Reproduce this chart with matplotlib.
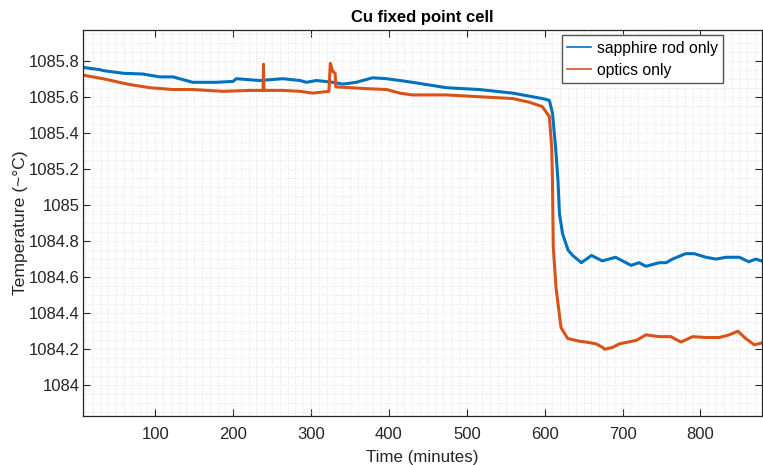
import numpy as np
from matplotlib import pyplot as plt
from matplotlib.ticker import MultipleLocator, FuncFormatter

# time (minutes) and temperature readings
t_rod = [7, 29, 33, 59, 84, 106, 123, 148, 161, 178, 200, 204, 234, 264, 286, 294,
         307, 328, 341, 358, 379, 397, 414, 430, 474, 516, 559, 597, 606, 610, 614,
         617, 619, 623, 630, 636, 647, 657, 660, 674, 691, 711, 721, 730, 747, 756,
         764, 781, 792, 807, 820, 833, 850, 862, 871, 878]
T_rod = [1085.763, 1085.75, 1085.745, 1085.73, 1085.726, 1085.71, 1085.71, 1085.68,
         1085.68, 1085.68, 1085.685, 1085.70, 1085.69, 1085.70, 1085.69, 1085.68,
         1085.69, 1085.68, 1085.67, 1085.68, 1085.705, 1085.70, 1085.69, 1085.68,
         1085.65, 1085.64, 1085.62, 1085.59, 1085.58, 1085.51, 1085.32, 1085.14,
         1084.95, 1084.84, 1084.75, 1084.72, 1084.68, 1084.71, 1084.72, 1084.69,
         1084.71, 1084.665, 1084.68, 1084.66, 1084.68, 1084.68, 1084.70, 1084.73,
         1084.73, 1084.71, 1084.70, 1084.71, 1084.71, 1084.685, 1084.70, 1084.69]

t_opt = [7, 33, 59, 71, 93, 123, 148, 187, 221, 238.5, 239, 239.7, 264, 286, 302,
         323, 324.8, 328, 331, 331.7, 350, 371, 397, 414, 430, 474, 516, 559, 580,
         597, 606, 609, 610, 611, 614.6, 621, 629.5, 644, 653, 666, 674.5, 677, 687,
         696, 718, 730, 747, 762, 775, 790, 807, 824, 837, 848, 858, 869, 879]
T_opt = [1085.72, 1085.70, 1085.675, 1085.665, 1085.65, 1085.64, 1085.64, 1085.63,
         1085.635, 1085.635, 1085.78, 1085.635, 1085.635, 1085.63, 1085.62, 1085.63,
         1085.785, 1085.74, 1085.73, 1085.655, 1085.65, 1085.645, 1085.64, 1085.62,
         1085.61, 1085.61, 1085.60, 1085.59, 1085.57, 1085.545, 1085.49, 1085.32,
         1085.14, 1084.77, 1084.54, 1084.32, 1084.26, 1084.245, 1084.24, 1084.23,
         1084.21, 1084.20, 1084.21, 1084.23, 1084.25, 1084.28, 1084.27, 1084.27,
         1084.24, 1084.27, 1084.265, 1084.265, 1084.28, 1084.30, 1084.26, 1084.225,
         1084.235]

labels = ['sapphire rod only', 'optics only']

plt.rcParams['font.family'] = ['Liberation Sans', 'DejaVu Sans']
dark = '#262626'

fig = plt.figure(figsize=(7.63, 4.65), dpi=100)
ax = fig.add_axes([83 / 763, 49 / 465, 679 / 763, 386 / 465])

ax.plot(t_rod, T_rod, color='#0072BD', lw=2.2, label=labels[0])
ax.plot(t_opt, T_opt, color='#D95319', lw=2.2, label=labels[1])

ax.set_xlim(7.3, 879)
ax.set_ylim(1083.83, 1085.97)
ax.xaxis.set_major_locator(MultipleLocator(100))
ax.yaxis.set_major_locator(MultipleLocator(0.2))
ax.xaxis.set_minor_locator(MultipleLocator(10))
ax.yaxis.set_minor_locator(MultipleLocator(0.05))
ax.yaxis.set_major_formatter(FuncFormatter(lambda v, p: '%g' % round(v, 1)))

# matlab-ish box, inward ticks on all four sides
ax.tick_params(which='major', direction='in', length=5, width=0.8, color=dark,
               top=True, right=True, labelsize=12, labelcolor=dark)
ax.tick_params(axis='x', which='major', pad=8)
ax.tick_params(axis='y', which='major', pad=2.5)
ax.tick_params(which='minor', length=0, top=True, right=True)
for s in ax.spines.values():
    s.set_color(dark)
    s.set_linewidth(0.9)

ax.grid(which='both', color='#dadada', linestyle=(0, (1, 2)), linewidth=0.6)
ax.set_axisbelow(True)

ax.set_xlabel('Time (minutes)', fontsize=12.2, color=dark, labelpad=6)
ax.set_ylabel('Temperature (~°C)', fontsize=12.6, color=dark)
ax.yaxis.set_label_coords(-0.0817, 0.5)
ax.set_title('Cu fixed point cell', fontsize=12, fontweight='bold', color='black', pad=6)

leg = ax.legend(loc='upper right', bbox_to_anchor=(0.9426, 0.987), borderaxespad=0,
                fontsize=11.3, fancybox=False, framealpha=1, edgecolor='#555555',
                handlelength=1.5, handletextpad=0.35, borderpad=0.35, labelspacing=0.45)
leg.get_frame().set_linewidth(1.0)
for ln in leg.get_lines():
    ln.set_linewidth(1.2)

fig.savefig('out.png', dpi=100)
